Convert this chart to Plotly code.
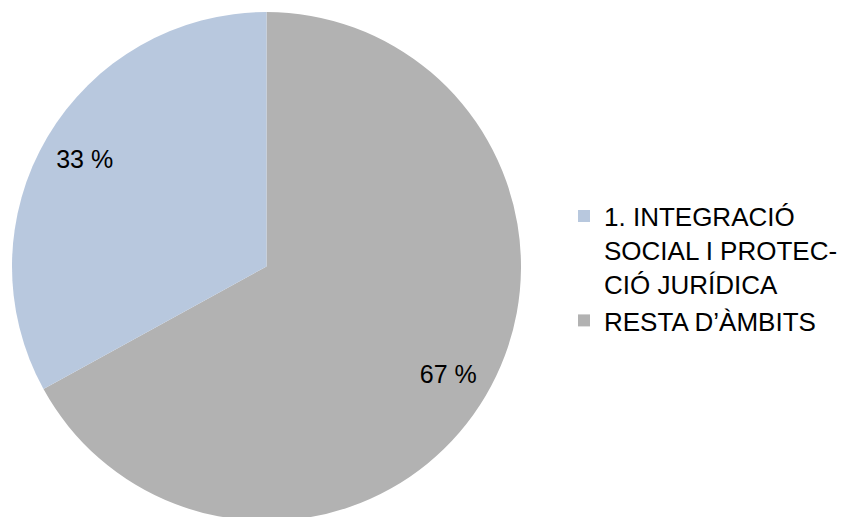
import plotly.graph_objects as go

# data (drawn clockwise from 12 o'clock; legend shown in reverse order)
labels = ["RESTA D’ÀMBITS", "<br><br>1. INTEGRACIÓ<br>SOCIAL I PROTEC-<br>CIÓ JURÍDICA"]
values = [67, 33]
colors = ["#B2B2B2", "#B8C8DE"]

OFF = 8  # page body offset
W, H = 843, 513
mt, mb = 12 - OFF, 0
plot_h = H - mt - mb
cx = 266.5 - OFF
x0 = (cx - plot_h / 2) / W
x1 = (cx + plot_h / 2) / W
dom = dict(x=[x0, x1], y=[0, 1])

pie = go.Pie(
    labels=labels,
    values=values,
    marker=dict(colors=colors, line=dict(width=0)),
    sort=False,
    direction="clockwise",
    rotation=0,
    textinfo="none",
    hoverinfo="label+percent",
    domain=dom,
)

text_ring = go.Pie(
    labels=labels,
    values=values,
    marker=dict(colors=["rgba(0,0,0,0)"] * len(values), line=dict(width=0)),
    sort=False,
    direction="clockwise",
    rotation=0,
    hole=0.66,
    texttemplate="%{value} %",
    textposition="inside",
    insidetextorientation="horizontal",
    textfont=dict(family="Liberation Sans", size=25, color="black"),
    hoverinfo="skip",
    showlegend=False,
    domain=dom,
)

fig = go.Figure([pie, text_ring])

fig.update_layout(
    width=W,
    height=H,
    margin=dict(l=0, r=0, t=mt, b=mb),
    paper_bgcolor="white",
    plot_bgcolor="white",
    font=dict(family="Liberation Sans", size=25, color="black"),
    showlegend=True,
    legend=dict(
        x=(564 - OFF) / W,
        xanchor="left",
        y=1 - (117 - mt) / plot_h,
        yanchor="top",
        traceorder="reversed",
        font=dict(family="Liberation Sans", size=26, color="black"),
        bgcolor="rgba(0,0,0,0)",
        borderwidth=0,
    ),
)

fig.write_html("out.html")
